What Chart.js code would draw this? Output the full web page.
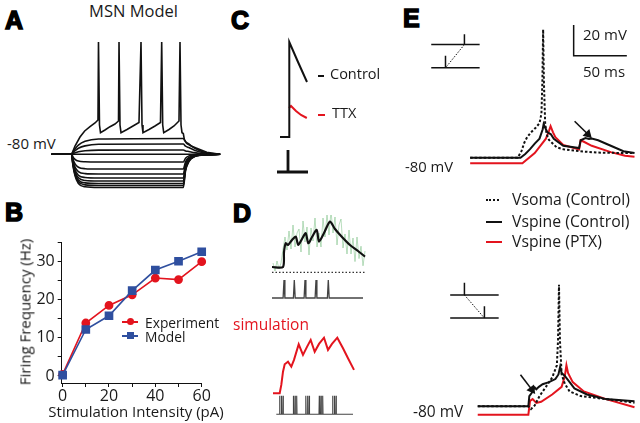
<!DOCTYPE html>
<html>
<head>
<meta charset="utf-8">
<script src="https://cdn.jsdelivr.net/npm/chart.js@4.4.0/dist/chart.umd.min.js"></script>
<style>
body { margin: 0; background: #fff; }
#page { position: relative; width: 640px; height: 423px; overflow: hidden; font-family: "Open Sans", sans-serif; color: #1a1a1a; }
canvas { position: absolute; }
.t { position: absolute; white-space: nowrap; font-size: 14.5px; line-height: 1; transform: translateY(-50%); }
.c { transform: translate(-50%, -50%); }
.pl { position: absolute; font-family: "Liberation Sans", Arial, sans-serif; font-weight: bold; font-size: 25px; line-height: 1; transform: translateY(-50%); -webkit-text-stroke: 1.5px #000; color: #000; }
.mk { position: absolute; }
</style>
</head>
<body>
<div id="page">
  <!-- panel letters -->
  <div class="pl" style="left:5px;top:20px">A</div>
  <div class="pl" style="left:5px;top:212px">B</div>
  <div class="pl" style="left:231px;top:20px">C</div>
  <div class="pl" style="left:233px;top:213px">D</div>
  <div class="pl" style="left:403px;top:18px">E</div>

  <!-- A -->
  <div class="t c" style="left:133.5px;top:11px;font-size:16.5px">MSN Model</div>
  <div class="t" style="left:7px;top:143px;font-size:15px">-80 mV</div>
  <canvas id="chartA" width="185" height="160" style="left:45px;top:35px"></canvas>

  <!-- B -->
  <canvas id="chartB" width="215" height="193" style="left:0px;top:230px"></canvas>
  <div class="t c" style="left:24.5px;top:311.5px;font-size:15px;transform:translate(-50%,-50%) rotate(-90deg)">Firing Frequency (Hz)</div>
  <div class="t c" style="left:136px;top:410.5px;font-size:15px">Stimulation Intensity (pA)</div>
  <div class="mk" style="left:122px;top:321px;width:16px;height:1.6px;background:#e3141e"></div>
  <div class="mk" style="left:126.5px;top:318.3px;width:7px;height:7px;border-radius:50%;background:#e3141e"></div>
  <div class="mk" style="left:122px;top:335px;width:16px;height:1.6px;background:#2f4f9f"></div>
  <div class="mk" style="left:126.5px;top:332.3px;width:7px;height:7px;background:#2f4f9f"></div>
  <div class="t" style="left:145px;top:323px;font-size:13.8px">Experiment</div>
  <div class="t" style="left:145px;top:337px;font-size:13.8px">Model</div>

  <!-- C -->
  <canvas id="chartC" width="50" height="145" style="left:270px;top:35px"></canvas>
  <div class="mk" style="left:318px;top:75px;width:6px;height:2px;background:#111"></div>
  <div class="t" style="left:330px;top:74px">Control</div>
  <div class="mk" style="left:318px;top:114px;width:7px;height:2px;background:#e3141e"></div>
  <div class="t" style="left:332px;top:113px">TTX</div>

  <!-- D -->
  <canvas id="chartD1" width="105" height="90" style="left:265px;top:215px"></canvas>
  <div class="t" style="left:233px;top:325px;color:#e3141e;font-size:15.5px">simulation</div>
  <canvas id="chartD2" width="105" height="92" style="left:265px;top:330px"></canvas>

  <!-- E -->
  <canvas id="chartE1" width="220" height="170" style="left:420px;top:10px"></canvas>
  <canvas id="chartE2" width="220" height="155" style="left:420px;top:268px"></canvas>
  <div class="t" style="left:583px;top:34px;font-size:15px">20 mV</div>
  <div class="t" style="left:583px;top:71px;font-size:15px">50 ms</div>
  <div class="t" style="left:405px;top:166px;font-size:14.8px">-80 mV</div>
  <div class="t" style="left:413px;top:412px;font-size:15.5px">-80 mV</div>
  <div class="mk" style="left:486px;top:199px;width:13px;height:0;border-top:2px dotted #111"></div>
  <div class="mk" style="left:486px;top:221px;width:16px;height:2.4px;background:#111"></div>
  <div class="mk" style="left:486px;top:241px;width:16px;height:2.4px;background:#e3141e"></div>
  <div class="t" style="left:512px;top:200px;font-size:15.8px">Vsoma (Control)</div>
  <div class="t" style="left:512px;top:222px;font-size:15.8px">Vspine (Control)</div>
  <div class="t" style="left:512px;top:242px;font-size:15.8px">Vspine (PTX)</div>
</div>

<script>
// ---- Panel B: firing frequency vs stimulation ----
var stimIntensity = [0, 10, 20, 30, 40, 50, 60];
var experimentHz = [0.4, 13.9, 18.5, 21.3, 25.7, 25.3, 30.0];
var modelHz = [0.2, 12.2, 15.8, 22.4, 27.8, 30.1, 32.6];
var xTickValues = [0, 10, 20, 30, 40, 50, 60];
var yTickValues = [0, 5, 10, 15, 20, 25, 30, 35];

// ---- Panel A: MSN model current steps (ms, mV) ----
var aStepTimes = [-90, 0, 5, 15, 30, 60, 120, 500, 510, 525, 550, 590, 665];
var aHold = [-80, -80, -80, -80, -80, -80, -80, -80, -80, -80, -80, -80, -80];
var aHyper1 = [-80, -80, -82.3, -85, -86.8, -87.5, -87.7, -87.7, -83.9, -81.7, -80.5, -80.2, -80];
var aHyper2 = [-80, -80, -84.4, -89.6, -92.9, -94.4, -94.7, -94.7, -87.4, -83.2, -81, -80.3, -80];
var aHyper3 = [-80, -80, -85.9, -92.8, -97.3, -99.3, -99.7, -99.7, -89.9, -84.3, -81.4, -80.4, -80];
var aHyper4 = [-80, -80, -87.1, -95.4, -100.9, -103.2, -103.7, -103.7, -91.9, -85.2, -81.7, -80.5, -80];
var aHyper5 = [-80, -80, -88, -97.4, -103.5, -106.2, -106.7, -106.7, -93.4, -85.9, -81.9, -80.5, -80];
var aHyper6 = [-80, -80, -88.8, -99, -105.7, -108.6, -109.2, -109.2, -94.6, -86.4, -82, -80.6, -80];
var aHyper7 = [-80, -80, -89.4, -100.3, -107.5, -110.6, -111.2, -111.2, -95.6, -86.9, -82.2, -80.6, -80];
var aHyper8 = [-80, -80, -90, -101.6, -109.2, -112.5, -113.2, -113.2, -96.6, -87.3, -82.3, -80.7, -80];
var aDepol1 = [-80, -80, -79.4, -78.5, -77.5, -76.5, -75.8, -75.7, -76.6, -77.2, -78.3, -79.4, -80];
var aDepol2 = [-80, -80, -78.5, -76.4, -74, -71.6, -70, -69.7, -71.8, -73.3, -75.9, -78.5, -80];
var aDepol3 = [-80, -80, -77.6, -74.5, -70.8, -67, -64.7, -64.2, -67.4, -69.7, -73.7, -77.6, -80];
var aSpikeT = [-88, 0, 14.8, 37.2, 58.2, 82, 104.4, 117.8, 120, 124.5, 129, 149, 171.6, 194, 209.7,
  212, 216.4, 220.9, 247.7, 274.6, 301.5, 310.5, 315, 319.4, 346.3, 373.2, 397.8,
  403.2, 407.7, 412.2, 435.9, 458.3, 480.7, 485.2, 489.7, 494.2, 500, 505, 515, 535, 560, 605, 664];
var aSpikeV = [-80, -80, -71.7, -62.7, -56.7, -52.4, -48.7, -45.7, 32.3, -50.7, -58.4, -55.7, -52.4, -49.7, -46.7,
  32.3, -50.7, -58.4, -55.2, -51.7, -48.2, 32.3, -50.7, -58.4, -55.2, -51.7, -48.2,
  32.3, -50.7, -58.4, -55.2, -51.7, -46.7, 32.3, -50.7, -58.4, -59.2, -65.7, -69, -71.7, -74, -78, -80];

// ---- Panel C: EPSP control vs TTX ----
var cCtrlT = [0, 4.5, 4.5, 4.8, 9, 13.5];
var cCtrlV = [-80, -80, 14, 15, -5, -25];
var cTtxT = [4.5, 5.5, 8, 10.5, 13.4];
var cTtxV = [-51, -49, -54, -58, -61];
var cStimT = [4, 4, null, -1.5, 14];
var cStimV = [-93, -115, null, -115, -115];

// ---- Panel D: recorded (top) and simulated (bottom) ----
var dRecT = [0, 22, 24, 27.4, 32, 40, 47.4, 52.6, 60, 67.4, 72.6, 80, 89.4, 94, 104, 116, 126, 140, 156, 172, 186];
var dRecV = [0, 0, 7.5, 11.9, 11, 13.5, 15.2, 11, 14, 16.9, 11.9, 15, 18.5, 12.7, 17, 22.7, 19, 15, 11, 8, 5.2];
var dRawT = [2, 6, 10, 14, 18, 22, 26, 30, 34, 38, 42, 46, 50, 54, 58, 62, 66, 70, 74, 78, 82, 86, 90, 94,
  98, 102, 106, 110, 114, 118, 122, 126, 130, 134, 138, 142, 146, 150, 154, 158, 162, 166, 170, 174, 178, 182, 186];
var dRawV = [2, -2, 3, -1, 2, 9, 15, 8.5, 18, 9, 21, 10, 17, 19, 7.5, 23, 12.5, 20, 6, 19.5, 13, 24.5, 10, 17,
  10, 24.5, 15, 26.5, 16, 28, 17, 25, 11, 21, 24, 9.5, 16.5, 6.5, 18.5, 6.5, 14.5, 2.7, 15, 4.2, 10.4, 0.6, 8];
var dRecSpikeTimes = [24, 44.6, 66, 88, 112.6];
var dSimT = [2, 15.4, 18.6, 22, 25.4, 32, 38.6, 44, 53.4, 62, 70, 77.4, 85.4, 94, 104, 112, 120, 130.6, 142, 152, 164];
var dSimV = [0, 0, 4.2, 10.8, 14.5, 15.8, 13.3, 16.7, 24.5, 19.2, 23.2, 26.7, 20.8, 24.7, 27.8, 21.7, 24.7, 27.8, 22.5, 17.5, 11.7];
var dSimSpikeTimes = [15.2, 18.6, 22, 42.6, 46, 49.4, 67.6, 71, 74.4, 94.6, 98, 101.4, 121.2, 124.6, 128];

// ---- Panel E: spine/soma voltages (ms, mV) ----
var eTopSomaT = [0, 44.65, 48.2, 50.9, 53.6, 57.2, 61.6, 65.2, 67, 67.9, 68.6, 69.3, 70.5, 71.9, 74.1, 81.3, 87.5, 102.7, 118.8, 145.6, 154.5];
var eTopSomaV = [-80, -80, -75.8, -70.3, -66.7, -63.6, -60.6, -57.6, -51.5, -30.3, 3, -30.3, -57.6, -64.85, -68.5, -73.3, -74.5, -75.8, -76.7, -77, -77];
var eTopSpineT = [0, 47.3, 51.8, 56.3, 60.7, 65.2, 68.2, 69.1, 71.2, 72.7, 75.9, 78.6, 87.5, 102.4, 103.9, 108.4, 111.7, 114.3, 120.3, 132.2, 144.1, 154.5];
var eTopSpineV = [-80, -80, -77.6, -74.5, -70.9, -67.7, -61.6, -58.2, -61.6, -63.6, -64.85, -67.7, -72.3, -73.8, -68.7, -67.3, -67.9, -67.6, -68.7, -72.3, -75.8, -77];
var eTopPtxT = [0, 49.1, 60.7, 71.2, 74.1, 75.6, 77.9, 80.1, 87.5, 102.4, 103.9, 106.9, 114.3, 132.2, 145.6, 154.5];
var eTopPtxV = [-83.6, -83.6, -77, -67.7, -62.6, -59.6, -63.6, -66.7, -71.7, -74.7, -68.7, -69.7, -72.3, -76.4, -78.8, -79.4];
var eBotSomaT = [7.1, 54.7, 57.2, 60.7, 65.2, 71.2, 77.1, 81.5, 82.6, 83.5, 84.4, 86, 89, 93.5, 103.9, 127.7, 154.5];
var eBotSomaV = [-80, -80, -81.8, -79.4, -73.3, -67.3, -61.2, -53.2, -37, -0.6, -37, -59.2, -65.3, -70.3, -73.3, -75.3, -77.6];
var eBotSpineT = [7.1, 54.7, 55.6, 57.8, 59.2, 60.7, 62.2, 64.6, 68.1, 74.1, 80.1, 83, 84.6, 86, 89, 93.5, 98, 109.8, 127.7, 154.5];
var eBotSpineV = [-80, -80, -73.3, -71.3, -69.3, -67.7, -68.9, -67.3, -65.6, -64.2, -62.2, -59.2, -54.1, -58.2, -60.2, -64.2, -68.3, -72.3, -75.3, -76.7];
var eBotPtxT = [7.1, 54.7, 56.3, 58.7, 62.2, 66.7, 77.1, 86, 89, 90.5, 92, 96.4, 106.9, 127.7, 154.5];
var eBotPtxV = [-85.5, -85.5, -76.4, -75.3, -77.8, -77, -72.3, -67.3, -60.2, -53.2, -58.2, -64.2, -70.3, -75.3, -80.6];
// scale bar 20 mV / 50 ms
var eScaleT = [97.3, 97.3, 147.3];
var eScaleV = [6, -14, -14];
// stimulation-order insets (two dendrites with stim sites)
var eTopInsetT = [-36.6, 8.9, null, -36.6, 8.9, null, -5.4, -5.4, null, -23.2, -23.2];
var eTopInsetV = [-6.7, -6.7, null, -21.8, -21.8, null, 0, -6.7, null, -14, -21.8];
var eTopLinkT = [-5.4, -23.2];
var eTopLinkV = [-6.7, -21.8];
var eBotInsetT = [-18.8, 26.8, null, -18.8, 26.8, null, -5.4, -5.4, null, 13.4, 13.4];
var eBotInsetV = [-7.3, -7.3, null, -22.4, -22.4, null, 0.6, -7.3, null, -14.6, -22.4];
var eBotLinkT = [-5.4, 13.4];
var eBotLinkV = [-7.3, -22.4];
var eTopArrowT = [98.2, 110.7];
var eTopArrowV = [-56.4, -64.85];
var eBotArrowT = [47.3, 58];
var eBotArrowV = [-59.4, -69.1];

var RED = '#e3141e';
var BLUE = '#2f4f9f';
var INK = '#111';

Chart.defaults.font.family = "'Open Sans', sans-serif";
Chart.defaults.color = '#1a1a1a';

function pts(xs, ys) {
    return xs.map(function(x, i) { return {x: x, y: (x === null ? null : ys[i])}; });
}

function line(xs, ys, color, width, extra) {
    var ds = {
        data: pts(xs, ys),
        borderColor: color,
        backgroundColor: color,
        borderWidth: width,
        pointRadius: 0,
        fill: false,
        clip: false,
        spanGaps: false
    };
    return Object.assign(ds, extra || {});
}

// spikes drawn from a list of spike times
function spikeTrain(times, t0, t1, base, top, halfWidth) {
    var xs = [t0], ys = [base];
    times.forEach(function(t) {
        xs.push(t - halfWidth, t, t + halfWidth);
        ys.push(base, top, base);
    });
    xs.push(t1);
    ys.push(base);
    return {xs: xs, ys: ys};
}

function traceChart(id, xMin, xMax, yMin, yMax, datasets) {
    return new Chart(document.getElementById(id), {
        type: 'line',
        data: {datasets: datasets},
        options: {
            responsive: false,
            animation: false,
            devicePixelRatio: 1,
            events: [],
            layout: {padding: 0},
            plugins: {legend: {display: false}, tooltip: {enabled: false}},
            scales: {
                x: {type: 'linear', display: false, min: xMin, max: xMax},
                y: {type: 'linear', display: false, min: yMin, max: yMax}
            }
        }
    });
}

// Panel A
var smooth = {cubicInterpolationMode: 'monotone'};
var aTraces = [aHyper8, aHyper7, aHyper6, aHyper5, aHyper4, aHyper3, aHyper2, aHyper1, aHold, aDepol1, aDepol2, aDepol3];
var aSets = aTraces.map(function(v) { return line(aStepTimes, v, INK, 1.6, smooth); });
aSets.push(line(aSpikeT, aSpikeV, INK, 1.6));
traceChart('chartA', -119.6, 709.2, -120.7, 39.3, aSets);

// Panel B
var bChart = new Chart(document.getElementById('chartB'), {
    type: 'line',
    data: {
        datasets: [
            {
                label: 'Experiment',
                data: pts(stimIntensity, experimentHz),
                borderColor: RED, backgroundColor: RED,
                borderWidth: 1.6, pointStyle: 'circle', pointRadius: 3.6,
                order: 1, clip: false
            },
            {
                label: 'Model',
                data: pts(stimIntensity, modelHz),
                borderColor: BLUE, backgroundColor: BLUE,
                borderWidth: 1.6, pointStyle: 'rect', pointRadius: 5,
                order: 0, clip: false
            }
        ]
    },
    options: {
        responsive: false,
        animation: false,
        devicePixelRatio: 1,
        events: [],
        layout: {padding: {top: 7.3, right: 13.3, left: 0, bottom: 0}},
        plugins: {legend: {display: false}, tooltip: {enabled: false}},
        scales: {
            x: {
                type: 'linear', min: -0.4, max: 60,
                afterBuildTicks: function(s) { s.ticks = xTickValues.map(function(v) { return {value: v}; }); },
                afterFit: function(s) { s.height = 40; },
                ticks: {
                    font: {size: 16}, padding: 0, maxRotation: 0, autoSkip: false,
                    callback: function(v) { return v % 20 === 0 ? String(v) : ''; }
                },
                grid: {drawOnChartArea: false, tickLength: 4, color: INK},
                border: {color: INK, width: 1}
            },
            y: {
                type: 'linear', min: -1.85, max: 35,
                afterBuildTicks: function(s) { s.ticks = yTickValues.map(function(v) { return {value: v}; }); },
                afterFit: function(s) { s.width = 61.7; },
                ticks: {
                    font: {size: 16}, padding: 3, autoSkip: false,
                    callback: function(v) { return v % 10 === 0 ? String(v) : ''; }
                },
                grid: {drawOnChartArea: false, tickLength: 4, color: INK},
                border: {color: INK, width: 1}
            }
        }
    }
});

// Panel C
traceChart('chartC', -5, 20, -123, 22, [
    line(cCtrlT, cCtrlV, INK, 2),
    line(cTtxT, cTtxV, RED, 2),
    line(cStimT, cStimV, INK, 2.8)
]);

// Panel D
var dRecSpikes = spikeTrain(dRecSpikeTimes, 0, 182, -15.5, -6.5, 1.8);
traceChart('chartD1', -14, 196, -19, 26, [
    line(dRecT, dRecV, INK, 2.2, {tension: 0.25}),
    line(dRawT, dRawV, 'rgba(110,185,120,0.55)', 0.9),
    line([0, 186], [-2.65, -2.65], '#333', 1.2, {borderDash: [1.5, 2]}),
    line(dRecSpikes.xs, dRecSpikes.ys, '#444', 1.3)
]);
var dSimSpikes = spikeTrain(dSimSpikeTimes, 8.6, 162, -10.5, -1.2, 0.6);
traceChart('chartD2', -14, 196, -14.35, 31.65, [
    line(dSimT, dSimV, RED, 2),
    line(dSimSpikes.xs, dSimSpikes.ys, '#444', 1.1)
]);

// Panel E
function arrow(xs, ys, rot) {
    return line(xs, ys, INK, 1.6, {pointRadius: [0, 5.5], pointStyle: 'triangle', rotation: rot, pointBorderWidth: 0});
}
traceChart('chartE1', -42, 154.5, -90.9, 12.1, [
    line(eTopSomaT, eTopSomaV, INK, 2, {borderDash: [2.5, 2]}),
    line(eTopSpineT, eTopSpineV, INK, 2),
    line(eTopPtxT, eTopPtxV, RED, 2),
    line(eScaleT, eScaleV, INK, 1.5),
    line(eTopInsetT, eTopInsetV, INK, 1.5),
    line(eTopLinkT, eTopLinkV, INK, 1, {borderDash: [1.5, 1.5]}),
    arrow(eTopArrowT, eTopArrowV, 135)
]);
traceChart('chartE2', -42, 154.5, -87.3, 6.7, [
    line(eBotSomaT, eBotSomaV, INK, 2, {borderDash: [2.5, 2]}),
    line(eBotSpineT, eBotSpineV, INK, 2),
    line(eBotPtxT, eBotPtxV, RED, 2),
    line(eBotInsetT, eBotInsetV, INK, 1.5),
    line(eBotLinkT, eBotLinkV, INK, 1, {borderDash: [1.5, 1.5]}),
    arrow(eBotArrowT, eBotArrowV, 143)
]);
</script>
</body>
</html>
